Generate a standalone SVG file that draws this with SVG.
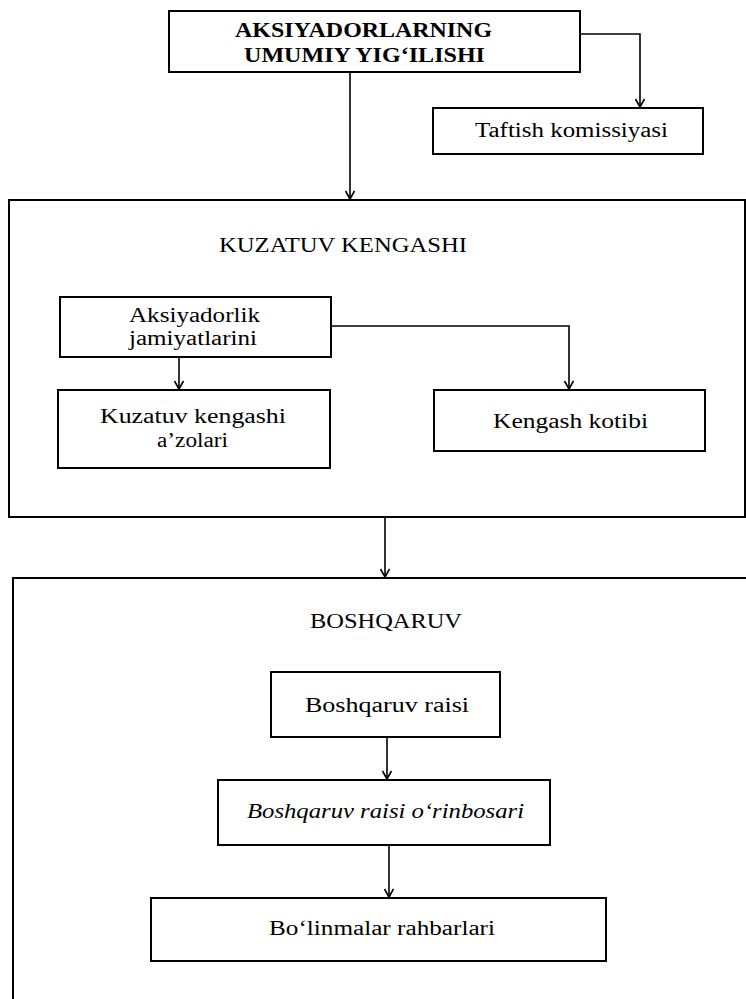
<svg xmlns="http://www.w3.org/2000/svg" width="746" height="999" viewBox="0 0 746 999">
<style>
  .box { fill: #ffffff; stroke: #000000; stroke-width: 2; }
  .t { font-family: "Liberation Serif", "DejaVu Serif", serif; font-size: 20px; fill: #000000; }
  .b { font-weight: bold; font-size: 21px; }
  .i { font-style: italic; }
  .conn { fill: none; stroke: #000000; stroke-width: 1.6; }
</style>
<defs>
  <marker id="arr" markerUnits="userSpaceOnUse" markerWidth="12" markerHeight="12" refX="9" refY="5" orient="auto">
    <path d="M1,0.5 L9,5 L1,9.5" fill="none" stroke="#000000" stroke-width="1.6"/>
  </marker>
</defs>
<rect x="0" y="0" width="746" height="999" fill="#ffffff"/>

<g id="n-boshqaruv">
  <rect class="box" x="13" y="578" width="780" height="460"/>
  <text class="t" x="310" y="628" textLength="152" lengthAdjust="spacingAndGlyphs">BOSHQARUV</text>
</g>
<g id="n-kuzatuv">
  <rect class="box" x="9" y="200" width="736" height="317"/>
  <text class="t" x="219" y="252" textLength="248" lengthAdjust="spacingAndGlyphs">KUZATUV KENGASHI</text>
</g>
<g id="n-agm">
  <rect class="box" x="169" y="11" width="411" height="61"/>
  <text class="t b" x="235" y="37" textLength="257" lengthAdjust="spacingAndGlyphs">AKSIYADORLARNING</text>
  <text class="t b" x="244" y="62" textLength="241" lengthAdjust="spacingAndGlyphs">UMUMIY YIG‘ILISHI</text>
</g>
<g id="n-taftish">
  <rect class="box" x="433" y="108" width="270" height="46"/>
  <text class="t" x="475" y="137" textLength="193" lengthAdjust="spacingAndGlyphs">Taftish komissiyasi</text>
</g>
<g id="n-aksiyadorlik">
  <rect class="box" x="60" y="297" width="271" height="60"/>
  <text class="t" x="129" y="322" textLength="131" lengthAdjust="spacingAndGlyphs">Aksiyadorlik</text>
  <text class="t" x="129" y="345" textLength="128" lengthAdjust="spacingAndGlyphs">jamiyatlarini</text>
</g>
<g id="n-azolari">
  <rect class="box" x="58" y="390" width="272" height="78"/>
  <text class="t" x="100" y="423" textLength="186" lengthAdjust="spacingAndGlyphs">Kuzatuv kengashi</text>
  <text class="t" x="157" y="447" textLength="71" lengthAdjust="spacingAndGlyphs">a’zolari</text>
</g>
<g id="n-kotib">
  <rect class="box" x="434" y="390" width="271" height="61"/>
  <text class="t" x="493" y="428" textLength="155" lengthAdjust="spacingAndGlyphs">Kengash kotibi</text>
</g>
<g id="n-raisi">
  <rect class="box" x="271" y="672" width="229" height="65"/>
  <text class="t" x="305" y="712" textLength="164" lengthAdjust="spacingAndGlyphs">Boshqaruv raisi</text>
</g>
<g id="n-orinbosar">
  <rect class="box" x="218" y="780" width="332" height="65"/>
  <text class="t i" x="247" y="818" textLength="277" lengthAdjust="spacingAndGlyphs">Boshqaruv raisi o‘rinbosari</text>
</g>
<g id="n-bolinma">
  <rect class="box" x="151" y="898" width="455" height="63"/>
  <text class="t" x="269" y="935" textLength="226" lengthAdjust="spacingAndGlyphs">Bo‘linmalar rahbarlari</text>
</g>

<g id="connectors">
  <path class="conn" d="M580,34 H640 V107" marker-end="url(#arr)"/>
  <path class="conn" d="M350,72 V199" marker-end="url(#arr)"/>
  <path class="conn" d="M179,357 V389" marker-end="url(#arr)"/>
  <path class="conn" d="M331,326 H569 V389" marker-end="url(#arr)"/>
  <path class="conn" d="M385,517 V577" marker-end="url(#arr)"/>
  <path class="conn" d="M387,737 V779" marker-end="url(#arr)"/>
  <path class="conn" d="M389,845 V897" marker-end="url(#arr)"/>
</g>
</svg>
